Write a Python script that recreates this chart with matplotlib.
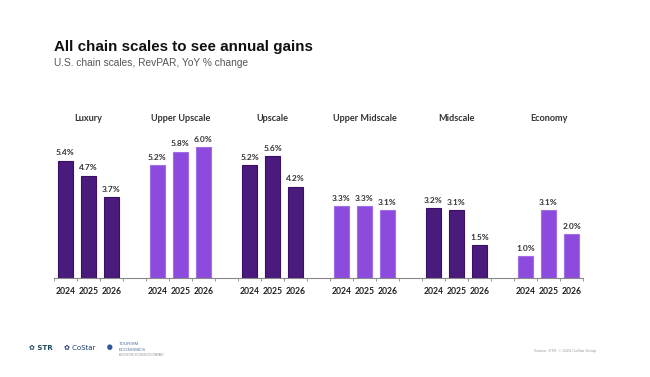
import numpy as np
import matplotlib.pyplot as plt

segments = ['Luxury', 'Upper Upscale', 'Upscale', 'Upper Midscale', 'Midscale', 'Economy']
years = ['2024', '2025', '2026']
luxury = [5.4, 4.7, 3.7]
upper_upscale = [5.2, 5.8, 6.0]
upscale = [5.2, 5.6, 4.2]
upper_midscale = [3.3, 3.3, 3.1]
midscale = [3.2, 3.1, 1.5]
economy = [1.0, 3.1, 2.0]
series = [luxury, upper_upscale, upscale, upper_midscale, midscale, economy]

dark = '#4a1a7c'
dark_edge = '#3a0f66'
light = '#8c4bdc'
light_edge = '#a06ee6'

plt.rcParams['font.family'] = ['Liberation Sans', 'DejaVu Sans']
fig = plt.figure(figsize=(6.5, 3.77), dpi=100)
ax = fig.add_axes([0.083, 0.2634, 0.814, 0.4317])

for g, vals in enumerate(series):
    fc, ec = (dark, dark_edge) if g % 2 == 0 else (light, light_edge)
    x = g * 4 + np.arange(3)
    ax.bar(x, vals, width=0.62, color=fc, edgecolor=ec, linewidth=0.8)
    for xi, v in zip(x, vals):
        ax.text(xi, v + 0.2, f'{v:.1f}%', ha='center', va='bottom',
                fontsize=6, fontweight='bold', color='#333333', family='Lato')
        ax.text(xi, -0.45, years[xi - g * 4], ha='center', va='top',
                fontsize=6.2, fontweight='bold', color='#222222', family='Lato')
    ax.text(g * 4 + 1, 7.32, segments[g], ha='center', va='center',
            fontsize=6.6, fontweight='bold', color='#333333', family='Lato')

ax.set_xlim(-0.5, 22.5)
ax.set_ylim(0, 7.5)
for s in ['top', 'right', 'left']:
    ax.spines[s].set_visible(False)
ax.spines['bottom'].set_color('#888888')
ax.spines['bottom'].set_linewidth(0.8)
ax.set_yticks([])
ax.set_xticks(np.arange(-0.5, 23, 1))
ax.set_xticklabels([])
ax.tick_params(axis='x', length=2, color='#888888', width=0.6)

fig.text(0.083, 0.876, 'All chain scales to see annual gains', fontsize=10.9,
         fontweight='bold', color='#111111', va='center')
fig.text(0.083, 0.833, 'U.S. chain scales, RevPAR, YoY % change', fontsize=7.3,
         color='#555555', va='center')

# logos as text
fig.text(0.045, 0.077, '\u273f STR', fontsize=5, color='#1a4a5a', va='center',
         family=['DejaVu Sans'], fontweight='bold')
fig.text(0.098, 0.077, '\u273f CoStar', fontsize=5, color='#1a3a6a', va='center',
         family=['DejaVu Sans'])
fig.text(0.163, 0.077, '\u25cf', fontsize=9, color='#2a5a9a', va='center')
fig.text(0.183, 0.088, 'TOURISM', fontsize=3.2, color='#4a6a9a', va='center')
fig.text(0.183, 0.072, 'ECONOMICS', fontsize=3.2, color='#4a6a9a', va='center')
fig.text(0.183, 0.058, 'AN OXFORD ECONOMICS COMPANY', fontsize=1.8, color='#888888', va='center')
fig.text(0.822, 0.069, 'Source: STR. \u00a9 2024 CoStar Group', fontsize=2.8,
         color='#999999', va='center')

fig.savefig('out.png', dpi=100)
